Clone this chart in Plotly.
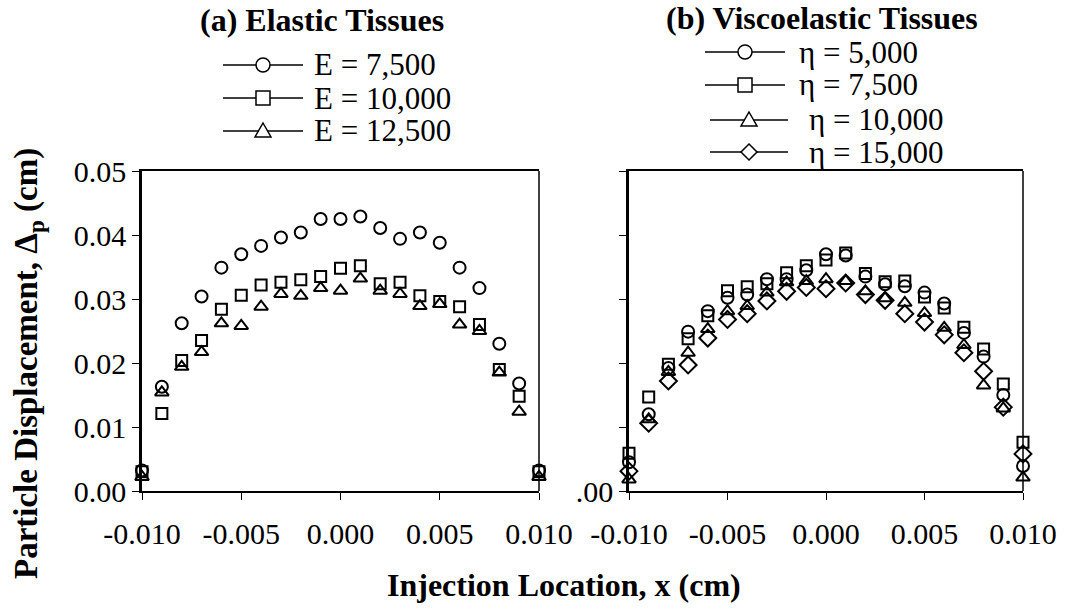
import plotly.graph_objects as go

# ---------------- data ----------------
x_loc = [-0.010, -0.009, -0.008, -0.007, -0.006, -0.005, -0.004, -0.003, -0.002, -0.001,
         0.000, 0.001, 0.002, 0.003, 0.004, 0.005, 0.006, 0.007, 0.008, 0.009, 0.010]

E_7500 = [0.0032, 0.0163, 0.0262, 0.0304, 0.0349, 0.0370, 0.0383, 0.0396, 0.0404, 0.0425, 0.0425,
          0.0429, 0.0411, 0.0394, 0.0404, 0.0388, 0.0349, 0.0317, 0.0230, 0.0168, 0.0032]
E_10000 = [0.0030, 0.0121, 0.0204, 0.0235, 0.0284, 0.0306, 0.0322, 0.0326, 0.0330, 0.0335, 0.0348,
           0.0352, 0.0324, 0.0326, 0.0305, 0.0296, 0.0288, 0.0260, 0.0190, 0.0148, 0.0030]
E_12500 = [0.0022, 0.0154, 0.0194, 0.0217, 0.0262, 0.0258, 0.0288, 0.0308, 0.0305, 0.0317, 0.0313,
           0.0332, 0.0313, 0.0308, 0.0289, 0.0292, 0.0260, 0.0250, 0.0185, 0.0124, 0.0022]

eta_5000 = [0.0045, 0.0120, 0.0192, 0.0249, 0.0281, 0.0302, 0.0307, 0.0331, 0.0331, 0.0345, 0.0370,
            0.0368, 0.0335, 0.0323, 0.0320, 0.0310, 0.0293, 0.0247, 0.0210, 0.0150, 0.0039]
eta_7500 = [0.0059, 0.0147, 0.0198, 0.0238, 0.0274, 0.0313, 0.0319, 0.0324, 0.0341, 0.0352, 0.0361,
            0.0372, 0.0340, 0.0327, 0.0328, 0.0303, 0.0286, 0.0256, 0.0222, 0.0167, 0.0076]
eta_10000 = [0.0018, 0.0112, 0.0186, 0.0216, 0.0253, 0.0281, 0.0289, 0.0310, 0.0326, 0.0328, 0.0331,
             0.0328, 0.0312, 0.0301, 0.0294, 0.0278, 0.0255, 0.0228, 0.0165, 0.0129, 0.0021]
eta_15000 = [0.0031, 0.0106, 0.0172, 0.0197, 0.0239, 0.0268, 0.0277, 0.0297, 0.0312, 0.0318, 0.0316,
             0.0325, 0.0307, 0.0298, 0.0277, 0.0264, 0.0244, 0.0216, 0.0187, 0.0131, 0.0058]

left_names = ["E = 7,500", "E = 10,000", "E = 12,500"]
right_names = ["η = 5,000", "η = 7,500", "η = 10,000", "η = 15,000"]

x_ticks = [-0.010, -0.005, 0.000, 0.005, 0.010]
x_ticktext = ["-0.010", "-0.005", "0.000", "0.005", "0.010"]
y_ticks = [0.00, 0.01, 0.02, 0.03, 0.04, 0.05]
y_ticktext_left = ["0.00", "0.01", "0.02", "0.03", "0.04", "0.05"]
y_ticks_right_labeled = [0.00]
y_ticktext_right = [".00"]
y_ticks_right_unlabeled = [0.01, 0.02, 0.03, 0.04, 0.05]

# ---------------- style ----------------
FONT = "Liberation Serif"
W, H = 1067, 609
TICK_SIZE = 30
TITLE_SIZE = 32
LEG_SIZE = 31

left_series = [E_7500, E_10000, E_12500]
left_symbols = ["circle", "square", "triangle"]
right_series = [eta_5000, eta_7500, eta_10000, eta_15000]
right_symbols = ["circle", "square", "triangle", "diamond"]
plotly_sym = {"circle": "circle-open", "square": "square-open",
              "triangle": "triangle-up-open", "diamond": "diamond-open"}
msizes = {"circle": 12, "square": 11, "triangle": 12, "diamond": 13}

fig = go.Figure()

for vals, sym in zip(left_series, left_symbols):
    fig.add_trace(go.Scatter(
        x=x_loc, y=vals, mode="markers", xaxis="x", yaxis="y",
        marker=dict(symbol=plotly_sym[sym], size=msizes[sym], color="black",
                    line=dict(color="black", width=2)),
        cliponaxis=False, showlegend=False))

for vals, sym in zip(right_series, right_symbols):
    fig.add_trace(go.Scatter(
        x=x_loc, y=vals, mode="markers", xaxis="x2", yaxis="y2",
        marker=dict(symbol=plotly_sym[sym], size=msizes[sym], color="black",
                    line=dict(color="black", width=2)),
        cliponaxis=False, showlegend=False))

xdom1 = [142 / W, 539 / W]
xdom2 = [629 / W, 1023 / W]
ydom = [1 - 491 / H, 1 - 171 / H]

xcommon = dict(range=[-0.010, 0.010], tickvals=x_ticks, ticktext=x_ticktext,
               showline=True, linecolor="black", linewidth=1.5, mirror=True,
               ticks="outside", ticklen=7, tickwidth=1, tickcolor="black",
               ticklabelstandoff=8,
               showgrid=False, zeroline=False, automargin=False,
               tickfont=dict(family=FONT, size=TICK_SIZE, color="black"))
ycommon = dict(range=[0, 0.05],
               showline=True, linecolor="black", linewidth=2.5, mirror=False,
               ticks="outside", ticklen=7, tickwidth=1, tickcolor="black",
               showgrid=False, zeroline=False, automargin=False,
               tickfont=dict(family=FONT, size=TICK_SIZE, color="black"))


# ---- manual legend (decoration drawn in paper coordinates from pixel positions) ----
def px(x):
    return x / W


def py(y):
    return 1 - y / H


shapes = [
    dict(type="line", xref="x domain", yref="y domain", x0=1, x1=1, y0=0, y1=1,
         line=dict(color="black", width=1.5)),
    dict(type="line", xref="x2 domain", yref="y2 domain", x0=1, x1=1, y0=0, y1=1,
         line=dict(color="black", width=1.5)),
]
annotations = []


def legend_glyph(sym, cx, cy, x0, x1):
    lw = 1.5
    shapes.append(dict(type="line", xref="paper", yref="paper",
                       x0=px(x0), x1=px(x1), y0=py(cy), y1=py(cy),
                       line=dict(color="black", width=lw), layer="above"))
    r = 7
    if sym == "circle":
        shapes.append(dict(type="circle", xref="paper", yref="paper",
                           x0=px(cx - r), x1=px(cx + r), y0=py(cy + r), y1=py(cy - r),
                           fillcolor="white", line=dict(color="black", width=lw), layer="above"))
    elif sym == "square":
        s = 7
        shapes.append(dict(type="rect", xref="paper", yref="paper",
                           x0=px(cx - s), x1=px(cx + s), y0=py(cy + s), y1=py(cy - s),
                           fillcolor="white", line=dict(color="black", width=lw), layer="above"))
    elif sym == "triangle":
        pts = [(cx, cy - 8), (cx + 8, cy + 6), (cx - 8, cy + 6)]
        path = "M " + " L ".join(f"{px(a):.5f},{py(b):.5f}" for a, b in pts) + " Z"
        shapes.append(dict(type="path", xref="paper", yref="paper", path=path,
                           fillcolor="white", line=dict(color="black", width=lw), layer="above"))
    elif sym == "diamond":
        pts = [(cx, cy - 8), (cx + 8, cy), (cx, cy + 8), (cx - 8, cy)]
        path = "M " + " L ".join(f"{px(a):.5f},{py(b):.5f}" for a, b in pts) + " Z"
        shapes.append(dict(type="path", xref="paper", yref="paper", path=path,
                           fillcolor="white", line=dict(color="black", width=lw), layer="above"))


left_rows = [65, 98, 131]
for name, sym, ry in zip(left_names, left_symbols, left_rows):
    legend_glyph(sym, 263, ry, 223, 303)
    annotations.append(dict(text=name, x=px(312), y=py(ry), xref="paper", yref="paper",
                            xanchor="left", yanchor="middle", showarrow=False,
                            font=dict(family=FONT, size=LEG_SIZE, color="black")))

right_rows = [52, 85, 120, 152]
right_line = [(705, 785, 745, 797), (705, 785, 745, 797), (710, 788, 749, 807), (710, 788, 749, 807)]
for name, sym, ry, (l0, l1, mc, tx) in zip(right_names, right_symbols, right_rows, right_line):
    legend_glyph(sym, mc, ry, l0, l1)
    annotations.append(dict(text=name, x=px(tx), y=py(ry), xref="paper", yref="paper",
                            xanchor="left", yanchor="middle", showarrow=False,
                            font=dict(family=FONT, size=LEG_SIZE, color="black")))

annotations += [
    dict(text="<b>(a) Elastic Tissues</b>", x=px(322), y=py(20), xref="paper", yref="paper",
         xanchor="center", yanchor="middle", showarrow=False,
         font=dict(family=FONT, size=TITLE_SIZE, color="black")),
    dict(text="<b>(b) Viscoelastic Tissues</b>", x=px(822), y=py(18), xref="paper", yref="paper",
         xanchor="center", yanchor="middle", showarrow=False,
         font=dict(family=FONT, size=TITLE_SIZE, color="black")),
    dict(text="<b>Particle Displacement, Δ<sub>p</sub> (cm)</b>", x=px(28), y=py(364),
         xref="paper", yref="paper", textangle=-90, xanchor="center", yanchor="middle",
         showarrow=False, font=dict(family=FONT, size=33, color="black")),
    dict(text="<b>Injection Location, x (cm)</b>", x=px(564), y=py(585),
         xref="paper", yref="paper", xanchor="center", yanchor="middle", showarrow=False,
         font=dict(family=FONT, size=TITLE_SIZE, color="black")),
]

fig.update_layout(
    width=W, height=H,
    margin=dict(l=0, r=0, t=0, b=0),
    paper_bgcolor="white", plot_bgcolor="white",
    font=dict(family=FONT, color="black"),
    showlegend=False,
    xaxis=dict(domain=xdom1, anchor="y", **xcommon),
    yaxis=dict(domain=ydom, anchor="x", tickvals=y_ticks, ticktext=y_ticktext_left, **ycommon),
    xaxis2=dict(domain=xdom2, anchor="y2", **xcommon),
    yaxis2=dict(domain=ydom, anchor="x2", tickvals=y_ticks_right_labeled, ticktext=y_ticktext_right,
                minor=dict(tickvals=y_ticks_right_unlabeled, ticks="outside", ticklen=7,
                           tickwidth=1, tickcolor="black", showgrid=False),
                **ycommon),
    shapes=shapes,
    annotations=annotations,
)

fig.write_html("out.html")
